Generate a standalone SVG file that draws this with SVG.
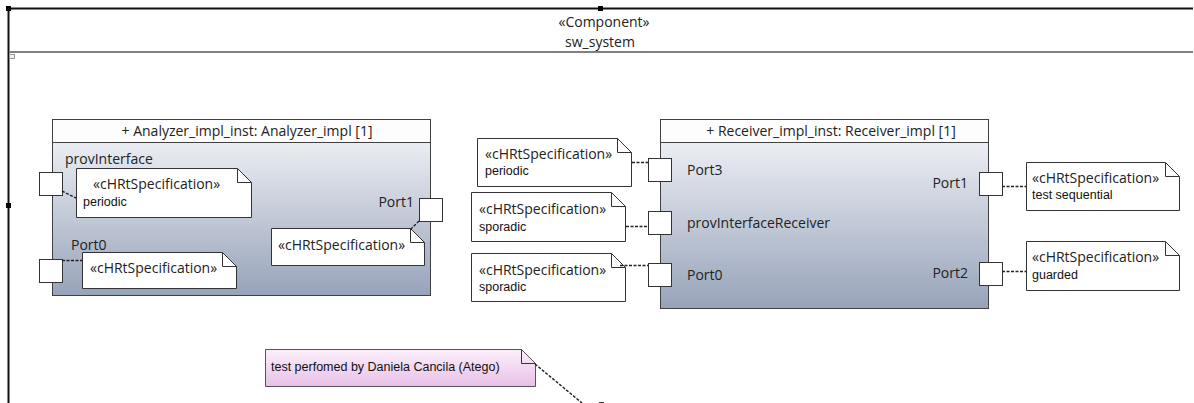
<svg xmlns="http://www.w3.org/2000/svg" width="1194" height="403" viewBox="0 0 1194 403">
<defs>
<linearGradient id="body" x1="0" y1="0" x2="0" y2="1">
<stop offset="0" stop-color="#f7f8fb"/>
<stop offset="1" stop-color="#97a3ba"/>
</linearGradient>
<linearGradient id="pink" x1="0" y1="0" x2="0" y2="1">
<stop offset="0" stop-color="#fcf0fc"/>
<stop offset="1" stop-color="#e7bfe6"/>
</linearGradient>
<style>
.box{stroke:#404040;stroke-width:1}
.hdr{fill:#fdfdfd}
.port{fill:#fff;stroke:#333;stroke-width:1}
.note{fill:#fff;stroke:#333;stroke-width:1}
.ear{fill:none;stroke:#333;stroke-width:1}
.dash{stroke:#222;stroke-width:1.4;stroke-dasharray:3,1.5;fill:none}
.t{font-family:"Open Sans","Noto Sans","DejaVu Sans",sans-serif;font-size:14px;fill:#222}
.s{font-family:"Liberation Sans",Arial,sans-serif;font-size:12.5px;fill:#111}
.h{fill:#000}
</style>
</defs>
<rect width="1194" height="403" fill="#fff"/>

<g id="frame">
<line x1="8" y1="8.5" x2="1193" y2="8.5" stroke="#111" stroke-width="2"/>
<line x1="8.5" y1="8" x2="8.5" y2="403" stroke="#111" stroke-width="2"/>
<line x1="9" y1="52" x2="1193" y2="52" stroke="#808080" stroke-width="2"/>
<rect x="6" y="6" width="5" height="5" class="h"/>
<rect x="598" y="6" width="5" height="5" class="h"/>
<rect x="6" y="203" width="5" height="5" class="h"/>
<rect x="9.5" y="54.5" width="5" height="4" fill="#eee" stroke="#999" stroke-width="1"/>
<text x="604" y="27" text-anchor="middle" class="t">«Component»</text>
<text x="600" y="47" text-anchor="middle" class="t">sw_system</text>
</g>

<g id="analyzer">
<rect x="52.5" y="119.5" width="378" height="176" fill="url(#body)" class="box"/>
<rect x="52.5" y="119.5" width="378" height="23" class="hdr box"/>
<text x="247" y="136" text-anchor="middle" class="t">+ Analyzer_impl_inst: Analyzer_impl [1]</text>
<text x="65" y="164" class="t">provInterface</text>
<text x="71" y="250" class="t">Port0</text>
<text x="414" y="207" text-anchor="end" class="t">Port1</text>
</g>
<g id="a_provInterface"><rect x="39.5" y="172.5" width="23" height="23" class="port"/></g>
<g id="a_port0"><rect x="39.5" y="259.5" width="23" height="23" class="port"/></g>
<g id="a_port1"><rect x="419.5" y="198.5" width="23" height="23" class="port"/></g>

<g id="note_a1">
<path d="M76.5 168.5 H237.5 L251.5 182.5 V217.5 H76.5 Z" class="note"/>
<path d="M237.5 168.5 V182.5 H251.5" class="ear"/>
<text x="93" y="189" class="t">«cHRtSpecification»</text>
<text x="83" y="206" class="s">periodic</text>
</g>
<g id="note_a2">
<path d="M82.5 252.5 H222.5 L236.5 266.5 V288.5 H82.5 Z" class="note"/>
<path d="M222.5 252.5 V266.5 H236.5" class="ear"/>
<text x="90" y="273" class="t">«cHRtSpecification»</text>
</g>
<g id="note_a3">
<path d="M271.5 228.5 H410.5 L424.5 242.5 V265.5 H271.5 Z" class="note"/>
<path d="M410.5 228.5 V242.5 H424.5" class="ear"/>
<text x="278" y="250" class="t">«cHRtSpecification»</text>
</g>

<g id="receiver">
<rect x="660.5" y="119.5" width="328" height="189" fill="url(#body)" class="box"/>
<rect x="660.5" y="119.5" width="328" height="23" class="hdr box"/>
<text x="831" y="136" text-anchor="middle" class="t">+ Receiver_impl_inst: Receiver_impl [1]</text>
<text x="687" y="175" class="t">Port3</text>
<text x="687" y="228" class="t">provInterfaceReceiver</text>
<text x="687" y="280" class="t">Port0</text>
<text x="968" y="188" text-anchor="end" class="t">Port1</text>
<text x="968" y="278" text-anchor="end" class="t">Port2</text>
</g>
<g id="r_port3"><rect x="648.5" y="158.5" width="23" height="23" class="port"/></g>
<g id="r_provInterfaceReceiver"><rect x="648.5" y="211.5" width="23" height="23" class="port"/></g>
<g id="r_port0"><rect x="648.5" y="263.5" width="23" height="23" class="port"/></g>
<g id="r_port1"><rect x="979.5" y="172.5" width="23" height="23" class="port"/></g>
<g id="r_port2"><rect x="979.5" y="262.5" width="23" height="23" class="port"/></g>

<g id="note_r3">
<path d="M477.5 138.5 H617.5 L631.5 152.5 V186.5 H477.5 Z" class="note"/>
<path d="M617.5 138.5 V152.5 H631.5" class="ear"/>
<text x="485" y="159" class="t">«cHRtSpecification»</text>
<text x="485" y="175" class="s">periodic</text>
</g>
<g id="note_rpi">
<path d="M471.5 192.5 H611.5 L625.5 206.5 V241.5 H471.5 Z" class="note"/>
<path d="M611.5 192.5 V206.5 H625.5" class="ear"/>
<text x="479" y="214" class="t">«cHRtSpecification»</text>
<text x="479" y="231" class="s">sporadic</text>
</g>
<g id="note_r0">
<path d="M471.5 253.5 H611.5 L625.5 267.5 V301.5 H471.5 Z" class="note"/>
<path d="M611.5 253.5 V267.5 H625.5" class="ear"/>
<text x="479" y="275" class="t">«cHRtSpecification»</text>
<text x="479" y="291" class="s">sporadic</text>
</g>
<g id="note_r1">
<path d="M1026.5 162.5 H1165.5 L1179.5 176.5 V210.5 H1026.5 Z" class="note"/>
<path d="M1165.5 162.5 V176.5 H1179.5" class="ear"/>
<text x="1032" y="183" class="t">«cHRtSpecification»</text>
<text x="1032" y="199" class="s">test sequential</text>
</g>
<g id="note_r2">
<path d="M1026.5 241.5 H1165.5 L1179.5 255.5 V290.5 H1026.5 Z" class="note"/>
<path d="M1165.5 241.5 V255.5 H1179.5" class="ear"/>
<text x="1032" y="262" class="t">«cHRtSpecification»</text>
<text x="1032" y="279" class="s">guarded</text>
</g>

<g id="note_author">
<path d="M265.5 349.5 H521.5 L535.5 363.5 V386.5 H265.5 Z" fill="url(#pink)" stroke="#555" stroke-width="1"/>
<path d="M521.5 349.5 V363.5 H535.5" class="ear" stroke="#555"/>
<text x="271" y="371" class="s">test perfomed by Daniela Cancila (Atego)</text>
</g>

<g id="connectors">
<path d="M62 191 L76 198" class="dash"/>
<path d="M62 260.5 H82" class="dash"/>
<path d="M419 221 L410 230" class="dash"/>
<path d="M632 162.5 H648" class="dash"/>
<path d="M626 226.5 H648" class="dash"/>
<path d="M620 265.5 H648" class="dash"/>
<path d="M1002 186.5 H1026" class="dash"/>
<path d="M1002 271.5 H1026" class="dash"/>
<path d="M535 364 L582 403" class="dash"/>
<path d="M599 402.5 H604" stroke="#333" stroke-width="1"/>
</g>
</svg>
